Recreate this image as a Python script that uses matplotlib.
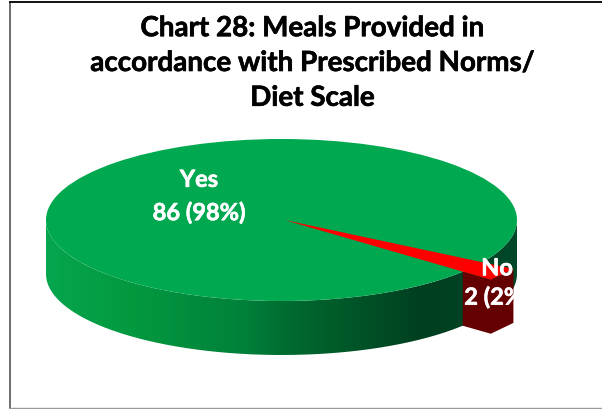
import matplotlib
matplotlib.use('Agg')
import matplotlib.pyplot as plt, numpy as np
import matplotlib.patheffects as pe
from matplotlib.colors import LinearSegmentedColormap
from matplotlib.patches import Ellipse, Polygon, PathPatch
from matplotlib.path import Path

title = 'Chart 28: Meals Provided in\naccordance with Prescribed Norms/\nDiet Scale'
categories = ['Yes', 'No']
counts = [86, 2]
percents = ['98%', '2%']

CX, CY = 281.5, 221
RX, RY = 235.5, 81
DEPTH = 54
RED_R = 1.155   # red slice sticks out past the rim
START = 31.5

plt.rcParams['font.family'] = ['Lato', 'DejaVu Sans']


def pt(r, deg, drop=0):
    a = np.radians(deg)
    return CX + r*RX*np.cos(a), CY + r*RY*np.sin(a) + drop


def label(x, y, s, size, color, spacing):
    # Lato bold is a little lighter than the original face, thicken it a bit
    txt = ax.text(x, y, s, ha='center', va='center', fontsize=size, fontweight='bold',
                  color=color, linespacing=spacing, zorder=6)
    txt.set_path_effects([pe.withStroke(linewidth=0.45, foreground=color)])
    return txt


fig = plt.figure(figsize=(6.02, 4.10), dpi=100)
ax = fig.add_axes([0, 0, 1, 1])
ax.set_xlim(0, 602)
ax.set_ylim(410, 0)
ax.axis('off')

# chart frame
ax.plot([9.5, 9.5], [2.5, 409], color='#555555', lw=1.2)
ax.plot([9.5, 602], [2.8, 2.8], color='#111111', lw=1.4)
ax.plot([9.5, 602], [409, 409], color='#999999', lw=1.0)

# green side wall, shaded left to right
t = np.linspace(0, 180, 200)
top = np.array([pt(1, d) for d in t])
bot = np.array([pt(1, d, DEPTH) for d in t])
wall = Path(np.vstack([top, bot[::-1], top[:1]]), closed=False)
wall_patch = PathPatch(wall, fc='none', ec='none')
ax.add_patch(wall_patch)
cmap = LinearSegmentedColormap.from_list('wall', [(0, '#05A64E'), (0.18, '#03993F'), (0.42, '#00813A'),
                                                  (0.52, '#006A30'), (0.8, '#003F1F'), (1, '#00472A')])
grad = ax.imshow(np.linspace(0, 1, 256)[None, :], cmap=cmap, aspect='auto', zorder=1,
                 extent=[CX-RX, CX+RX, CY+RY+DEPTH+2, CY-5])
grad.set_clip_path(wall_patch)
ax.set_xlim(0, 602)
ax.set_ylim(410, 0)

# top face
ax.add_patch(Ellipse((CX, CY), 2*RX, 2*RY, fc='#00A84F', ec='none', zorder=2))

# red slice from the data
sweep = 360*counts[1]/sum(counts)
end = START + sweep
side = [pt(1, end), pt(RED_R, end), pt(RED_R, START),
        pt(RED_R, START, DEPTH), pt(RED_R, end, DEPTH), pt(1, end, DEPTH)]
ax.add_patch(Polygon(side, fc='#640000', ec='none', zorder=3))
ax.add_patch(Polygon([(CX+3, CY), pt(RED_R, START), pt(RED_R, end)], fc='#FF0000', ec='none', zorder=4))

label(312.5, 64, title, 20, '#000000', 1.42)
label(199, 197, '%s\n%d (%s)' % (categories[0], counts[0], percents[0]), 17, 'white', 1.5)
label(497, 283.5, '%s\n%d (%s)' % (categories[1], counts[1], percents[1]), 17, 'white', 1.3)

fig.savefig('out.png', dpi=100)
